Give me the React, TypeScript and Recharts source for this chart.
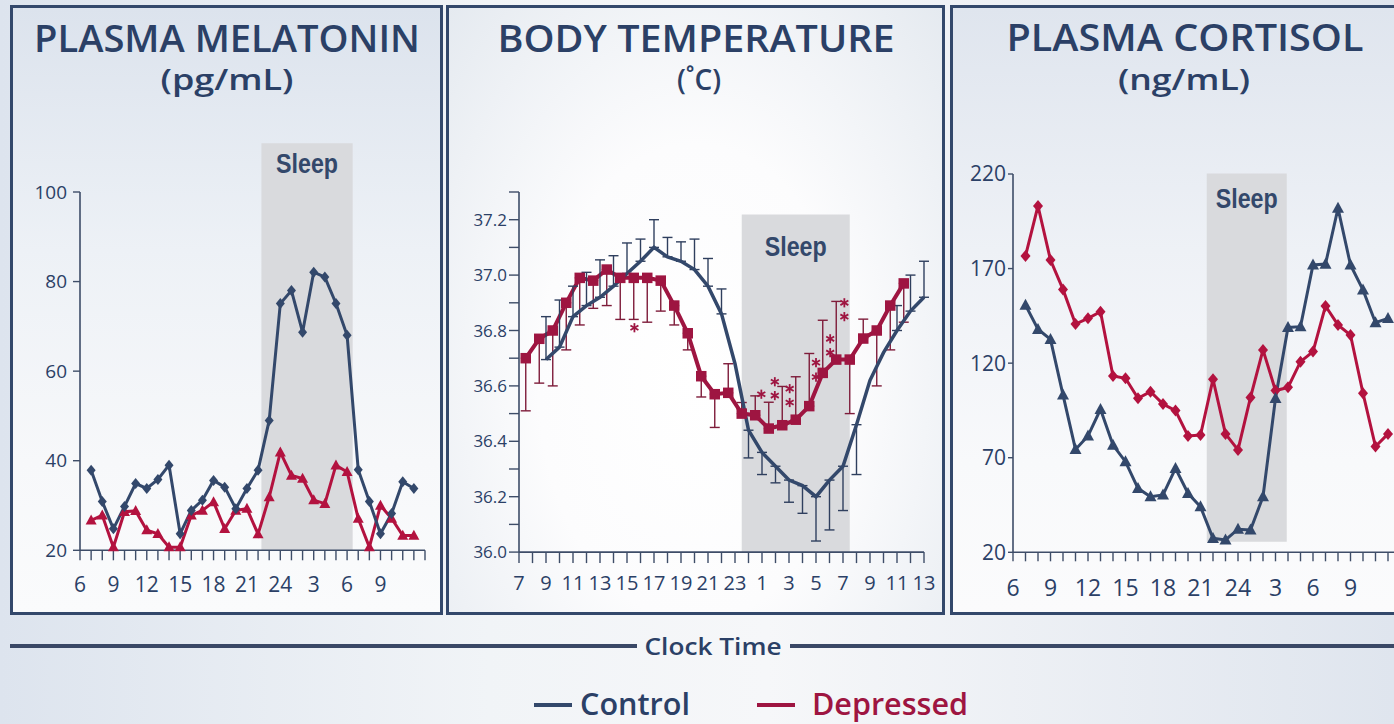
import React from 'react';
import { ComposedChart, Line, XAxis, YAxis, ReferenceArea, ErrorBar, Scatter } from 'recharts';

// ---------------- colours & fonts ----------------
const NAVY = '#33486b';
const RED = '#b3123f';
const RED_DARK = '#9e1541';
const INK = '#2b4066';
const AXIS = '#3e4d68';
const SLEEP_FILL = '#d9dadd';
const FONT = '"Open Sans", "DejaVu Sans", sans-serif';
const NARROW = '"Liberation Sans", Arial, sans-serif';

// ---------------- Panel 1: plasma melatonin (pg/mL) ----------------
const melatoninHours = [7, 8, 9, 10, 11, 12, 13, 14, 15, 16, 17, 18, 19, 20, 21, 22, 23, 24, 25, 26, 27, 28, 29, 30, 31, 32, 33, 34, 35, 36];
const melatoninControl = [37.9, 30.9, 24.8, 29.8, 34.9, 33.8, 35.8, 39.0, 23.7, 28.9, 31.2, 35.6, 34.1, 29.3, 33.8, 37.9, 49.0, 75.1, 78.0, 68.7, 82.1, 81.0, 75.1, 68.0, 38.0, 30.9, 23.7, 28.2, 35.3, 33.8];
const melatoninDepressed = [26.7, 27.8, 20.7, 28.6, 28.8, 24.5, 23.7, 20.7, 20.7, 27.8, 28.9, 30.8, 24.8, 28.9, 29.3, 23.6, 31.9, 41.9, 36.7, 36.0, 31.2, 30.4, 39.0, 37.5, 27.1, 20.7, 30.0, 27.1, 23.3, 23.3];
const melatoninYTicks = [20, 40, 60, 80, 100];
const melatoninXLabelHours = [6, 9, 12, 15, 18, 21, 24, 27, 30, 33];
const melatoninXLabels = ['6', '9', '12', '15', '18', '21', '24', '3', '6', '9'];
const melatoninSleepX = [22.3, 30.5];
const melatoninSleepY = [20, 110.9];

// ---------------- Panel 2: body temperature (°C) ----------------
const tempDepressedHours = [7.5, 8.5, 9.5, 10.5, 11.5, 12.5, 13.5, 14.5, 15.5, 16.5, 17.5, 18.5, 19.5, 20.5, 21.5, 22.5, 23.5, 24.5, 25.5, 26.5, 27.5, 28.5, 29.5, 30.5, 31.5, 32.5, 33.5, 34.5, 35.5];
const tempDepressed = [36.70, 36.77, 36.80, 36.90, 36.99, 36.98, 37.02, 36.99, 36.99, 36.99, 36.98, 36.89, 36.79, 36.635, 36.57, 36.575, 36.50, 36.494, 36.446, 36.458, 36.478, 36.527, 36.647, 36.695, 36.695, 36.771, 36.80, 36.89, 36.97];
// [below, above]
const tempDepressedErr = [
  [0.19, 0], [0.16, 0], [0.20, 0], [0.17, 0], [0.17, 0], [0.10, 0], [0.13, 0], [0.15, 0], [0.15, 0], [0.16, 0],
  [0.11, 0], [0.07, 0], [0.06, 0], [0.075, 0], [0.12, 0], [0, 0.105], [0, 0.04], [0, 0.07], [0, 0.095], [0, 0.14],
  [0, 0.155], [0, 0.19], [0, 0.19], [0, 0.21], [0.195, 0], [0, 0.07], [0.2, 0], [0.16, 0], [0.14, 0],
];
const tempControlHours = [9, 10, 11, 12, 13, 14, 15, 16, 17, 18, 19, 20, 21, 22, 23, 24, 25, 26, 27, 28, 29, 30, 31, 32, 33, 34, 35, 36, 37];
const tempControl = [36.695, 36.74, 36.85, 36.89, 36.92, 36.96, 37.006, 37.05, 37.10, 37.066, 37.05, 37.02, 36.96, 36.86, 36.68, 36.44, 36.36, 36.31, 36.26, 36.24, 36.20, 36.26, 36.31, 36.46, 36.62, 36.72, 36.80, 36.87, 36.92];
const tempControlErr: (number[] | null)[] = [
  [0, 0.155], [0, 0.17], [0, 0.11], [0, 0.12], [0, 0.135], [0, 0.11], [0, 0.11], [0, 0.08], [0, 0.10], [0, 0.07],
  [0, 0.07], [0, 0.11], [0, 0.10], [0, 0.09], null, [0.10, 0], [0.08, 0], [0.06, 0], [0.08, 0], [0.10, 0],
  [0.16, 0], [0.18, 0], [0.16, 0], [0.18, 0], null, null, [0, 0.09], [0, 0.13], [0, 0.13],
];
const tempStarHours = [15.55, 24.95, 25.95, 25.95, 27.05, 27.05, 29.0, 29.0, 30.05, 30.05, 31.1, 31.1];
const tempStarValues = [36.81, 36.57, 36.615, 36.565, 36.59, 36.54, 36.684, 36.632, 36.77, 36.72, 36.90, 36.85];
const tempYTicks = [36.0, 36.1, 36.2, 36.3, 36.4, 36.5, 36.6, 36.7, 36.8, 36.9, 37.0, 37.1, 37.2, 37.3];
const tempYLabelValues = [36.0, 36.2, 36.4, 36.6, 36.8, 37.0, 37.2];
const tempYLabels = ['36.0', '36.2', '36.4', '36.6', '36.8', '37.0', '37.2'];
const tempXLabelHours = [7, 9, 11, 13, 15, 17, 19, 21, 23, 25, 27, 29, 31, 33, 35, 37];
const tempXLabels = ['7', '9', '11', '13', '15', '17', '19', '21', '23', '1', '3', '5', '7', '9', '11', '13'];
const tempSleepX = [23.5, 31.5];
const tempSleepY = [36.0, 37.219];

// ---------------- Panel 3: plasma cortisol (ng/mL) ----------------
const cortisolHours = [7, 8, 9, 10, 11, 12, 13, 14, 15, 16, 17, 18, 19, 20, 21, 22, 23, 24, 25, 26, 27, 28, 29, 30, 31, 32, 33, 34, 35, 36];
const cortisolControl = [150.7, 137.9, 132.6, 103.2, 74.4, 81.5, 95.6, 76.7, 67.9, 53.8, 49.4, 50.3, 64.4, 51.2, 44.1, 27.4, 26.5, 32.2, 31.8, 49.4, 101.4, 138.9, 139.3, 171.9, 172.4, 201.9, 171.9, 158.7, 141.4, 143.7];
const cortisolDepressed = [176.7, 203.1, 174.5, 159.0, 140.7, 143.7, 147.2, 113.2, 112.0, 101.4, 104.9, 98.4, 94.9, 81.5, 82.0, 111.5, 82.6, 74.1, 101.9, 127.0, 105.5, 107.2, 120.8, 126.1, 150.2, 140.2, 134.9, 104.1, 75.9, 82.6];
const cortisolYTicks = [20, 70, 120, 170, 220];
const cortisolXLabelHours = [6, 9, 12, 15, 18, 21, 24, 27, 30, 33];
const cortisolXLabels = ['6', '9', '12', '15', '18', '21', '24', '3', '6', '9'];
const cortisolSleepX = [21.5, 27.9];
const cortisolSleepY = [25.6, 220.3];

// ---------------- helpers ----------------
const hourTicks = (a: number, b: number) => Array.from({ length: b - a + 1 }, (_, i) => a + i);

const labelLookup = (vals: number[], texts: string[]) => (v: number) => {
  const i = vals.findIndex((x) => Math.abs(x - v) < 1e-6);
  return i >= 0 ? texts[i] : undefined;
};

const makeXTick = (lookup: (v: number) => string | undefined, fontSize: number, sx = 1) => (props: any) => {
  const { x, y, payload } = props;
  const t = lookup(payload.value);
  if (!t) return <g />;
  return (
    <g transform={`translate(${x},${y})`}>
      <text x={0} y={0} dy="0.71em" textAnchor="middle" fontSize={fontSize} fontFamily={FONT} fill={INK}
        transform={sx !== 1 ? `scale(${sx},1)` : undefined}>{t}</text>
    </g>
  );
};

const makeYTick = (lookup: (v: number) => string | undefined, fontSize: number, sx = 1) => (props: any) => {
  const { x, y, payload } = props;
  const t = lookup(payload.value);
  if (!t) return <g />;
  return (
    <g transform={`translate(${x},${y})`}>
      <text x={0} y={0} dy="0.355em" textAnchor="end" fontSize={fontSize} fontFamily={FONT} fill={INK}
        transform={sx !== 1 ? `scale(${sx},1)` : undefined}>{t}</text>
    </g>
  );
};

const sleepLabel = (offset: number) => (props: any) => {
  const vb = props.viewBox || {};
  return (
    <text x={vb.x + vb.width / 2} y={vb.y + offset} textAnchor="middle" fontFamily={NARROW} fontWeight={700}
      fontSize={27} fill={NAVY} textLength={62} lengthAdjust="spacingAndGlyphs">Sleep</text>
  );
};

const diamondDot = (w: number, h: number, color: string) => (props: any) => {
  const { cx, cy, index } = props;
  if (cx == null || cy == null) return <g key={index} />;
  return <path key={index} d={`M${cx},${cy - h / 2}L${cx + w / 2},${cy}L${cx},${cy + h / 2}L${cx - w / 2},${cy}Z`} fill={color} />;
};
const triangleDot = (w: number, h: number, color: string) => (props: any) => {
  const { cx, cy, index } = props;
  if (cx == null || cy == null) return <g key={index} />;
  return <path key={index} d={`M${cx},${cy - h * 0.58}L${cx + w / 2},${cy + h * 0.42}L${cx - w / 2},${cy + h * 0.42}Z`} fill={color} />;
};
const squareDot = (s: number, color: string) => (props: any) => {
  const { cx, cy, index } = props;
  if (cx == null || cy == null) return <g key={index} />;
  return <rect key={index} x={cx - s / 2} y={cy - s / 2} width={s} height={s} fill={color} />;
};
const asteriskShape = (props: any) => {
  const { cx, cy } = props;
  if (cx == null || cy == null) return <g />;
  const r = 4.6;
  const spokes = [90, 30, -30].map((a) => {
    const rad = (a * Math.PI) / 180;
    const dx = r * Math.cos(rad);
    const dy = r * Math.sin(rad);
    return <line key={a} x1={cx - dx} y1={cy - dy} x2={cx + dx} y2={cy + dy} stroke={RED_DARK} strokeWidth={1.8} />;
  });
  return <g>{spokes}</g>;
};

// plot rectangle (page coords) -> chart placement
const place = (L: number, T: number, R: number, B: number) => ({
  left: L - 70,
  top: T - 90,
  width: R - L + 85,
  height: B - T + 150,
  margin: { left: 10, top: 90, right: 15, bottom: 10 },
});

const axisLine = { stroke: AXIS, strokeWidth: 1.6 };
const tickLine = { stroke: AXIS, strokeWidth: 1.4 };

// ---------------- data tables for the library ----------------
const melatoninData = melatoninHours.map((h, i) => ({ h, control: melatoninControl[i], depressed: melatoninDepressed[i] }));
const cortisolData = cortisolHours.map((h, i) => ({ h, control: cortisolControl[i], depressed: cortisolDepressed[i] }));
const tempDepData = tempDepressedHours.map((h, i) => ({ h, v: tempDepressed[i], err: tempDepressedErr[i] }));
const tempCtlData = tempControlHours.map((h, i) => ({ h, v: tempControl[i], err: tempControlErr[i] }));
const tempStarData = tempStarHours.map((h, i) => ({ h, v: tempStarValues[i] }));

function MelatoninChart() {
  const p = place(80, 191.7, 425, 550);
  return (
    <div style={{ position: 'absolute', left: p.left, top: p.top }}>
      <ComposedChart width={p.width} height={p.height} margin={p.margin} data={melatoninData}>
        <ReferenceArea x1={melatoninSleepX[0]} x2={melatoninSleepX[1]} y1={melatoninSleepY[0]} y2={melatoninSleepY[1]}
          fill={SLEEP_FILL} fillOpacity={1} stroke="none" ifOverflow="visible" label={sleepLabel(30)} />
        <XAxis dataKey="h" type="number" domain={[6, 37]} ticks={hourTicks(6, 37)} interval={0} height={50}
          axisLine={axisLine} tickLine={tickLine} tickSize={10} tickMargin={17}
          tick={makeXTick(labelLookup(melatoninXLabelHours, melatoninXLabels), 21)} />
        <YAxis type="number" domain={[20, 100]} ticks={melatoninYTicks} interval={0} width={60}
          axisLine={axisLine} tickLine={tickLine} tickSize={7} tickMargin={6}
          tick={makeYTick((v) => String(v), 19)} />
        <Line dataKey="depressed" stroke={RED} strokeWidth={3} isAnimationActive={false}
          dot={triangleDot(11, 10, RED)} activeDot={false} />
        <Line dataKey="control" stroke={NAVY} strokeWidth={3} isAnimationActive={false}
          dot={diamondDot(9, 11, NAVY)} activeDot={false} />
      </ComposedChart>
    </div>
  );
}

function TemperatureChart() {
  const p = place(519.3, 191.6, 924.3, 551.7);
  return (
    <div style={{ position: 'absolute', left: p.left, top: p.top }}>
      <ComposedChart width={p.width} height={p.height} margin={p.margin}>
        <ReferenceArea x1={tempSleepX[0]} x2={tempSleepX[1]} y1={tempSleepY[0]} y2={tempSleepY[1]}
          fill={SLEEP_FILL} fillOpacity={1} stroke="none" ifOverflow="visible" label={sleepLabel(42)} />
        <XAxis dataKey="h" type="number" domain={[7, 37]} ticks={hourTicks(7, 37)} interval={0} height={50}
          axisLine={axisLine} tickLine={tickLine} tickSize={11} tickMargin={13}
          tick={makeXTick(labelLookup(tempXLabelHours, tempXLabels), 20)} />
        <YAxis type="number" domain={[36.0, 37.3]} ticks={tempYTicks} interval={0} width={60}
          axisLine={axisLine} tickLine={tickLine} tickSize={10} tickMargin={2}
          tick={makeYTick(labelLookup(tempYLabelValues, tempYLabels), 17)} />
        <Line data={tempDepData} dataKey="v" stroke={RED_DARK} strokeWidth={4} isAnimationActive={false}
          dot={squareDot(10.5, RED_DARK)} activeDot={false}>
          <ErrorBar dataKey="err" width={5} stroke="#7e1c3a" strokeWidth={1.4} direction="y" isAnimationActive={false} />
        </Line>
        <Line data={tempCtlData} dataKey="v" stroke={NAVY} strokeWidth={3.5} isAnimationActive={false}
          dot={false} activeDot={false}>
          <ErrorBar dataKey="err" width={5} stroke="#2f3f5e" strokeWidth={1.4} direction="y" isAnimationActive={false} />
        </Line>
        <Scatter data={tempStarData} dataKey="v" shape={asteriskShape} isAnimationActive={false} />
      </ComposedChart>
    </div>
  );
}

function CortisolChart() {
  const p = place(1013.3, 174, 1400.8, 552.3);
  return (
    <div style={{ position: 'absolute', left: p.left, top: p.top }}>
      <ComposedChart width={p.width} height={p.height} margin={p.margin} data={cortisolData}>
        <ReferenceArea x1={cortisolSleepX[0]} x2={cortisolSleepX[1]} y1={cortisolSleepY[0]} y2={cortisolSleepY[1]}
          fill={SLEEP_FILL} fillOpacity={1} stroke="none" ifOverflow="visible" label={sleepLabel(35)} />
        <XAxis dataKey="h" type="number" domain={[6, 37]} ticks={hourTicks(6, 37)} interval={0} height={50}
          axisLine={axisLine} tickLine={tickLine} tickSize={9} tickMargin={18}
          tick={makeXTick(labelLookup(cortisolXLabelHours, cortisolXLabels), 23)} />
        <YAxis type="number" domain={[20, 220]} ticks={cortisolYTicks} interval={0} width={60}
          axisLine={axisLine} tickLine={tickLine} tickSize={5} tickMargin={2}
          tick={makeYTick((v) => String(v), 21)} />
        <Line dataKey="depressed" stroke={RED} strokeWidth={3} isAnimationActive={false}
          dot={diamondDot(10, 12, RED)} activeDot={false} />
        <Line dataKey="control" stroke={NAVY} strokeWidth={3} isAnimationActive={false}
          dot={triangleDot(12, 11, NAVY)} activeDot={false} />
      </ComposedChart>
    </div>
  );
}

const panelBase: React.CSSProperties = {
  position: 'absolute',
  top: 5,
  height: 610,
  boxSizing: 'border-box',
  border: `3px solid ${NAVY}`,
};

export default function App() {
  return (
    <div style={{
      position: 'absolute', left: 0, top: 0, width: 1394, height: 724, overflow: 'hidden',
      background: 'linear-gradient(90deg, #dde4ee 0%, #f1f4f7 35%, #f6f7f9 55%, #dfe5ee 100%)',
    }}>
      <div style={{ ...panelBase, left: 10, width: 433, background: 'linear-gradient(180deg, #dce3ed 0%, #edf1f6 40%, #f7f8fa 75%, #fafbfc 100%)' }} />
      <div style={{ ...panelBase, left: 446, width: 499, background: 'radial-gradient(ellipse at 50% 62%, #ffffff 0%, #fcfcfd 45%, #e5eaf0 100%)' }} />
      <div style={{ ...panelBase, left: 950, width: 470, background: 'linear-gradient(180deg, #dfe5ee 0%, #eef1f6 40%, #f8f9fb 75%, #fbfbfc 100%)' }} />

      <svg width={1394} height={724} style={{ position: 'absolute', left: 0, top: 0 }}>
        <g fontFamily={FONT} fontWeight={600} fill={INK} textAnchor="middle">
          <text x={227} y={52} fontSize={38} textLength={386} lengthAdjust="spacingAndGlyphs">PLASMA MELATONIN</text>
          <text x={227} y={90} fontSize={28} textLength={133} lengthAdjust="spacingAndGlyphs">(pg/mL)</text>
          <text x={696} y={52} fontSize={38} textLength={397} lengthAdjust="spacingAndGlyphs">BODY TEMPERATURE</text>
          <text x={699} y={90} fontSize={28}>(˚C)</text>
          <text x={1185} y={51} fontSize={38} textLength={357} lengthAdjust="spacingAndGlyphs">PLASMA CORTISOL</text>
          <text x={1184} y={90} fontSize={28} textLength={132} lengthAdjust="spacingAndGlyphs">(ng/mL)</text>
        </g>
        <rect x={10} y={644} width={627} height={4} fill="#3a4866" />
        <rect x={790} y={644} width={604} height={4} fill="#3a4866" />
        <text x={713} y={655} fontFamily={FONT} fontWeight={600} fontSize={24} fill={INK} textAnchor="middle"
          textLength={137} lengthAdjust="spacingAndGlyphs">Clock Time</text>
        <rect x={534} y={703} width={38} height={4} fill={NAVY} />
        <text x={580} y={715} fontFamily={FONT} fontWeight={600} fontSize={30} fill={INK}
          textLength={110} lengthAdjust="spacingAndGlyphs">Control</text>
        <rect x={757} y={703} width={38} height={4} fill={RED_DARK} />
        <text x={812} y={715} fontFamily={FONT} fontWeight={600} fontSize={30} fill={RED_DARK}
          textLength={156} lengthAdjust="spacingAndGlyphs">Depressed</text>
      </svg>

      <MelatoninChart />
      <TemperatureChart />
      <CortisolChart />
    </div>
  );
}
